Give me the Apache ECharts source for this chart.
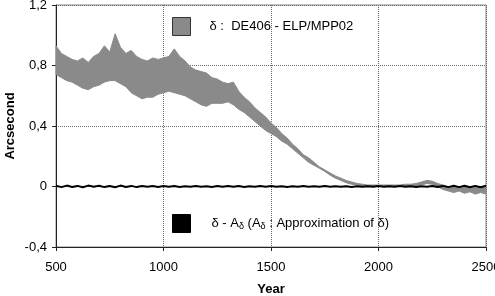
<!DOCTYPE html>
<html><head><meta charset="utf-8">
<script src="https://cdn.jsdelivr.net/npm/echarts@6/dist/echarts.min.js"></script>
<style>html,body{margin:0;padding:0;background:#fff}#c{width:495px;height:296px}</style>
</head><body><div id="c"></div>
<script>
const xTicks = [500, 1000, 1500, 2000, 2500];
const yTicks = [-0.4, 0, 0.4, 0.8, 1.2];
const years = [500,525,550,575,600,625,650,675,700,725,750,775,800,825,850,875,900,925,950,975,
  1000,1025,1050,1075,1100,1125,1150,1175,1200,1225,1250,1275,1300,1325,1350,1375,1400,1425,1450,1475,
  1500,1525,1550,1575,1600,1625,1650,1675,1700,1725,1750,1775,1800,1825,1850,1875,1900,1925,1950,1975,
  2000,2025,2050,2075,2100,2125,2150,2175,2200,2225,2250,2275,2300,2325,2350,2375,2400,2425,2450,2475,2500];
const deltaUpper = [0.93,0.88,0.86,0.84,0.83,0.85,0.82,0.86,0.88,0.93,0.89,1.01,0.92,0.88,0.90,0.86,0.84,0.83,0.85,0.84,
  0.85,0.86,0.91,0.86,0.83,0.79,0.77,0.76,0.75,0.72,0.71,0.69,0.68,0.69,0.63,0.59,0.56,0.52,0.49,0.46,
  0.42,0.39,0.35,0.32,0.28,0.25,0.21,0.19,0.16,0.13,0.11,0.09,0.07,0.055,0.04,0.03,0.02,0.015,0.01,0.01,
  0.01,0.01,0.01,0.01,0.01,0.015,0.015,0.02,0.03,0.04,0.035,0.02,0.01,0.0,0.0,-0.005,0.0,-0.005,0.0,-0.005,-0.01];
const deltaLower = [0.74,0.72,0.70,0.69,0.67,0.65,0.64,0.66,0.67,0.69,0.70,0.70,0.68,0.66,0.62,0.60,0.58,0.59,0.59,0.61,
  0.62,0.63,0.62,0.61,0.60,0.58,0.56,0.54,0.53,0.55,0.55,0.55,0.56,0.54,0.51,0.49,0.46,0.43,0.40,0.37,
  0.35,0.33,0.30,0.28,0.25,0.22,0.19,0.16,0.14,0.12,0.10,0.075,0.055,0.04,0.025,0.015,0.01,0.005,0,0,
  0,0,0,0,0,0,0,0.005,0.01,0.02,0.015,0.0,-0.02,-0.03,-0.04,-0.03,-0.045,-0.035,-0.05,-0.04,-0.05];
const residual = [0.005,-0.004,0.006,-0.003,0.004,-0.005,0.006,-0.002,0.005,-0.004,0.003,-0.005,0.006,-0.003,0.004,-0.004,0.003,-0.002,0.004,-0.003,0.003,
  -0.002,0.003,-0.003,0.002,-0.002,0.003,-0.002,0.002,-0.003,0.003,-0.002,0.004,-0.002,0.003,-0.003,0.002,-0.002,0.003,-0.002,0.003,
  -0.002,0.002,-0.003,0.002,-0.002,0.003,-0.002,0.002,-0.002,0.003,-0.002,0.002,-0.002,0.002,-0.003,0.002,-0.002,0.002,-0.002,0.003,
  -0.002,0.002,-0.002,0.003,-0.002,0.002,-0.003,0.002,-0.002,0.003,-0.003,0.004,-0.004,0.005,-0.004,0.005,-0.005,0.004,-0.005,0.005];
const name1 = 'δ :  DE406 - ELP/MPP02';
const name2 = 'δ - Aδ (Aδ : Approximation of δ)';

const FONT = "'Liberation Sans', Arial, Helvetica, sans-serif";
const grey = '#8a8a8a';
const bandData = years.map((y, i) => [y, deltaLower[i], deltaUpper[i]]);
const chart = echarts.init(document.getElementById('c'), null, {renderer: 'canvas'});
chart.setOption({
  animation: false,
  backgroundColor: '#fff',
  textStyle: {fontFamily: FONT},
  grid: {left: 56, right: 9, top: 5, bottom: 49, containLabel: false, outerBoundsMode: 'none',
         show: true, borderColor: '#888', borderWidth: 1, backgroundColor: 'transparent'},
  xAxis: {
    type: 'value', min: xTicks[0], max: xTicks[xTicks.length - 1], interval: xTicks[1] - xTicks[0],
    name: 'Year', nameLocation: 'middle', nameGap: 36, nameMoveOverlap: false,
    nameTextStyle: {fontWeight: 'bold', fontSize: 13, color: '#000', fontFamily: FONT},
    axisLine: {onZero: false, lineStyle: {color: '#222', width: 1}},
    axisTick: {show: true, length: 4, inside: false, lineStyle: {color: '#222'}},
    axisLabel: {fontSize: 13, color: '#000', margin: 14, fontFamily: FONT, formatter: v => String(v)},
    splitLine: {show: true, lineStyle: {type: 'dotted', color: '#666', width: 1}}
  },
  yAxis: {
    type: 'value', min: yTicks[0], max: yTicks[yTicks.length - 1], interval: yTicks[1] - yTicks[0],
    name: 'Arcsecond', nameLocation: 'middle', nameGap: 39, nameMoveOverlap: false,
    nameTextStyle: {fontWeight: 'bold', fontSize: 13, color: '#000', fontFamily: FONT},
    axisLine: {show: true, lineStyle: {color: '#222', width: 1}},
    axisTick: {show: true, length: 4, lineStyle: {color: '#222'}},
    axisLabel: {fontSize: 13, color: '#000', margin: 9, fontFamily: FONT,
      formatter: v => { const r = Math.round(v * 10) / 10; return String(r).replace('.', ','); }},
    splitLine: {show: true, lineStyle: {type: 'dotted', color: '#666', width: 1}}
  },
  legend: [
    {left: 172, top: 17, itemWidth: 18, itemHeight: 18, selectedMode: false, padding: 0,
     data: [{name: name1, icon: 'rect', itemStyle: {color: grey, borderColor: '#333', borderWidth: 1}}],
     formatter: n => '{a|' + n + '}',
     textStyle: {color: '#000', fontSize: 13, fontFamily: FONT, rich: {a: {fontSize: 13, padding: [0,0,0,14], fontFamily: FONT}}}},
    {left: 172, top: 214, itemWidth: 18, itemHeight: 18, selectedMode: false, padding: 0,
     data: [{name: name2, icon: 'rect', itemStyle: {color: '#000', borderColor: '#000', borderWidth: 1}}],
     formatter: () => '{a|δ - A}{s|δ}{t| (A}{s|δ}{t| : Approximation of δ)}',
     textStyle: {color: '#000', fontSize: 13, fontFamily: FONT, rich: {
       a: {fontSize: 13, padding: [0,0,0,16], fontFamily: FONT, color: '#000'},
       t: {fontSize: 13, fontFamily: FONT, color: '#000'},
       s: {fontSize: 9, fontFamily: FONT, color: '#000', padding: [6,0,0,0]}
     }}}
  ],
  series: [
    {name: name1, type: 'custom', silent: true, z: 2,
     data: bandData,
     encode: {x: 0, y: [1, 2]},
     itemStyle: {color: grey},
     renderItem: function (params, api) {
       if (params.dataIndex !== 0) return null;
       const top = bandData.map(d => api.coord([d[0], d[2]]));
       const bot = bandData.map(d => api.coord([d[0], d[1]])).reverse();
       return {type: 'polygon', shape: {points: top.concat(bot)},
               style: {fill: grey, stroke: grey, lineWidth: 1}};
     }},
    {name: name2, type: 'line', symbol: 'none', silent: true, z: 5,
     data: years.map((y, i) => [y, residual[i]]),
     lineStyle: {width: 2, color: '#000'}, itemStyle: {color: '#000'}}
  ]
});
</script></body></html>
